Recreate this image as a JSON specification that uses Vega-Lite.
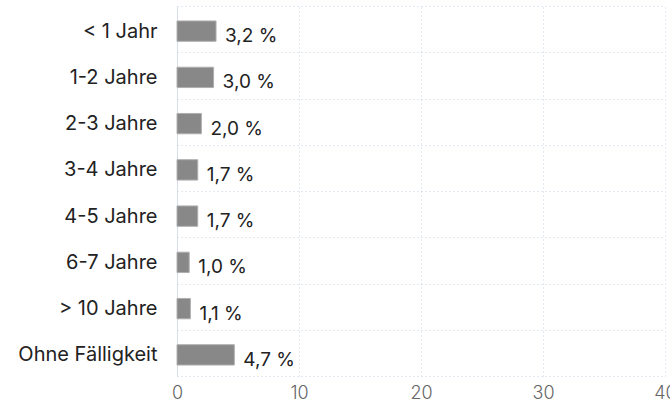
{
  "$schema": "https://vega.github.io/schema/vega-lite/v6.json",
  "autosize": {"type": "none"},
  "width": 488,
  "height": 370,
  "padding": {"left": 177, "top": 6, "right": 5, "bottom": 31},
  "background": "white",
  "data": {"values": [
    {"k": "< 1 Jahr", "v": 3.2, "t": "3,2 %"},
    {"k": "1-2 Jahre", "v": 3.0, "t": "3,0 %"},
    {"k": "2-3 Jahre", "v": 2.0, "t": "2,0 %"},
    {"k": "3-4 Jahre", "v": 1.7, "t": "1,7 %"},
    {"k": "4-5 Jahre", "v": 1.7, "t": "1,7 %"},
    {"k": "6-7 Jahre", "v": 1.0, "t": "1,0 %"},
    {"k": "> 10 Jahre", "v": 1.1, "t": "1,1 %"},
    {"k": "Ohne Fälligkeit", "v": 4.7, "t": "4,7 %"}
  ]},
  "config": {
    "view": {"stroke": null},
    "font": "Inter"
  },
  "encoding": {
    "y": {
      "field": "k", "type": "nominal", "sort": null, "title": null,
      "scale": {"paddingInner": 0, "paddingOuter": 0},
      "axis": {
        "tickBand": "extent", "ticks": false, "domain": true, "domainColor": "#d5dde8",
        "grid": true, "gridColor": "#c5d3e0", "gridDash": [1, 3],
        "labelFontSize": 20, "labelColor": "#222222", "labelPadding": 20, "labelFont": "Inter",
        "labelOffset": 2
      }
    },
    "x": {
      "field": "v", "type": "quantitative", "title": null,
      "scale": {"domain": [0, 40], "nice": false},
      "axis": {
        "values": [0, 10, 20, 30, 40], "ticks": false, "domain": false,
        "grid": true, "gridColor": "#c5d3e0", "gridDash": [1, 3],
        "labelFontSize": 18, "labelColor": "#666666", "labelPadding": 8, "labelFont": "Inter",
        "labelFontWeight": 300, "labelFlush": false
      }
    }
  },
  "layer": [
    {"mark": {"type": "bar", "height": {"band": 0.44}, "yOffset": 2, "color": "#888888", "stroke": "#b0b0b0", "strokeWidth": 1}},
    {"mark": {"type": "text", "align": "left", "baseline": "middle", "dx": 9, "dy": 7, "fontSize": 19, "color": "#222222", "font": "Inter"},
     "encoding": {"text": {"field": "t"}}}
  ]
}
